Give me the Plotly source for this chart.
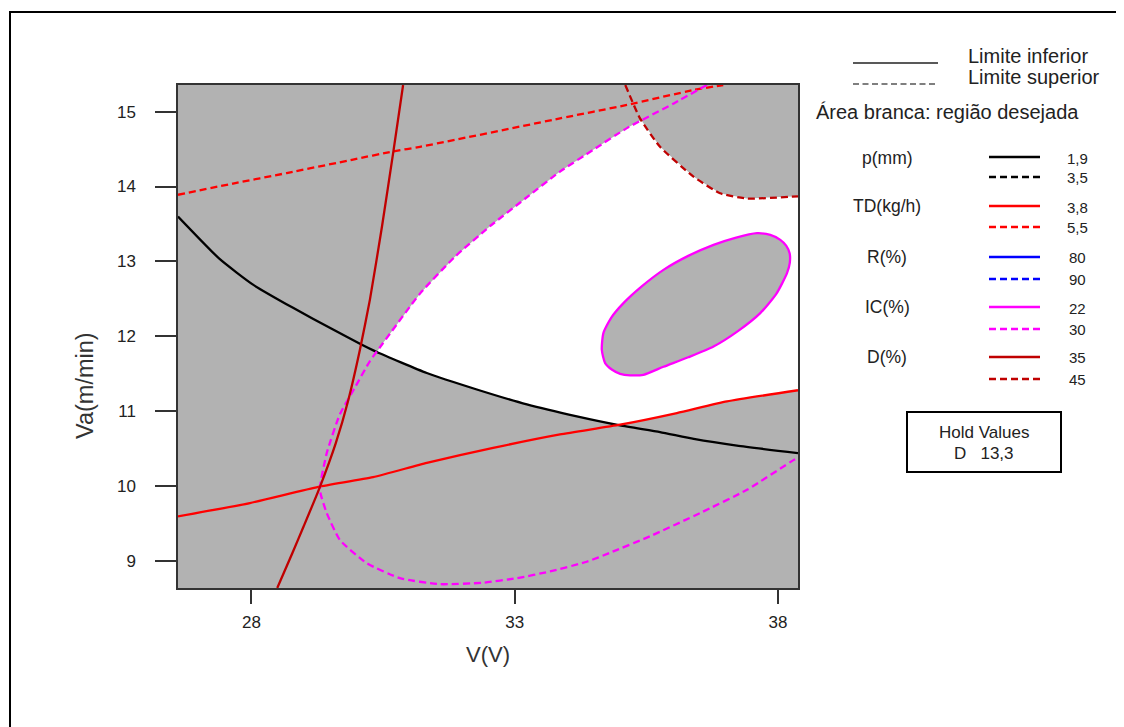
import plotly.graph_objects as go

# ---------------- data ----------------
x_ticks = [28, 33, 38]
y_ticks = [9, 10, 11, 12, 13, 14, 15]
x_range = [26.605, 38.38]
y_range = [8.639, 15.356]

# p(mm) = 1,9  (solid black)
p19_x = [26.605, 27.40, 28.03, 28.79, 29.55, 30.06, 30.38, 31.33, 32.28, 33.23, 34.18, 35.00, 35.76, 36.40, 37.22, 38.38]
p19_y = [13.60, 13.03, 12.69, 12.38, 12.09, 11.90, 11.79, 11.51, 11.29, 11.09, 10.93, 10.81, 10.72, 10.63, 10.54, 10.44]

# TD(kg/h) = 3,8  (solid red)
td38_x = [26.605, 27.97, 29.27, 30.31, 31.33, 32.59, 33.86, 35.00, 36.08, 37.03, 38.38]
td38_y = [9.595, 9.774, 9.99, 10.12, 10.31, 10.51, 10.69, 10.82, 10.975, 11.13, 11.28]

# TD(kg/h) = 5,5  (dashed red)
td55_x = [26.605, 27.65, 28.67, 29.93, 30.69, 31.20, 33.86, 35.13, 36.40, 36.96]
td55_y = [13.89, 14.04, 14.18, 14.36, 14.47, 14.53, 14.91, 15.09, 15.29, 15.356]

# D(%) = 35  (solid dark red)
d35_x = [30.88, 30.70, 30.48, 30.25, 30.06, 29.84, 29.60, 29.29, 28.99, 28.78, 28.49]
d35_y = [15.356, 14.49, 13.47, 12.49, 11.82, 11.15, 10.57, 9.97, 9.46, 9.11, 8.639]

# D(%) = 45  (dashed dark red)
d45_x = [35.10, 35.38, 35.76, 36.40, 36.90, 37.41, 38.38]
d45_y = [15.356, 14.91, 14.53, 14.13, 13.91, 13.84, 13.87]

# IC(%) = 30  (dashed magenta)
ic30_x = [36.65, 36.02, 35.13, 34.49, 33.86, 33.20, 32.53, 31.86, 31.20, 30.50, 30.25, 29.96, 29.68,
          29.43, 29.30, 29.43, 29.68, 30.19, 30.82, 31.58, 32.40, 33.04, 33.67, 34.37, 34.81, 35.57,
          36.52, 37.41, 38.30, 38.38]
ic30_y = [15.356, 15.11, 14.78, 14.49, 14.20, 13.84, 13.47, 13.06, 12.57, 11.91, 11.67, 11.31, 10.96,
          10.44, 9.95, 9.64, 9.28, 8.97, 8.77, 8.69, 8.71, 8.77, 8.86, 8.99, 9.11, 9.33,
          9.64, 9.95, 10.35, 10.38]

# IC(%) = 22  (solid magenta, closed)
ic22_x = [34.654, 34.684, 34.831, 35.065, 35.401, 35.825, 36.295, 36.776, 37.188, 37.601, 37.854, 38.044,
          38.158, 38.221, 38.224, 38.171, 37.968, 37.663, 37.245, 36.776, 36.295, 35.825, 35.445, 35.192,
          35.002, 34.850, 34.717, 34.654]
ic22_y = [11.820, 12.043, 12.247, 12.443, 12.660, 12.887, 13.074, 13.221, 13.315, 13.377, 13.354, 13.288,
          13.208, 13.110, 12.981, 12.843, 12.567, 12.310, 12.073, 11.864, 11.720, 11.593, 11.486, 11.479,
          11.499, 11.553, 11.642, 11.820]

# white (desired) region boundary
white_x = [30.38, 30.50, 31.20, 31.86, 32.53, 33.20, 33.86, 34.49, 35.13, 35.40, 35.76, 36.40, 36.90,
           37.41, 38.38, 38.38, 37.03, 36.08, 35.00, 34.18, 33.23, 32.28, 31.33, 30.38]
white_y = [11.79, 11.91, 12.57, 13.06, 13.47, 13.84, 14.20, 14.49, 14.78, 14.89, 14.53, 14.13, 13.91,
           13.84, 13.87, 11.28, 11.13, 10.975, 10.82, 10.93, 11.09, 11.29, 11.51, 11.79]

# legend
legend_names = ["p(mm)", "TD(kg/h)", "R(%)", "IC(%)", "D(%)"]
legend_low = ["1,9", "3,8", "80", "22", "35"]
legend_high = ["3,5", "5,5", "90", "30", "45"]
legend_colors = ["#000000", "#ff0000", "#0000ff", "#ff00ff", "#c00000"]
hold_text = ["Hold Values", "D\u00a0\u00a0\u00a013,3"]

# ---------------- layout helpers ----------------
OFF = 8                      # page body margin of the browser
W, H = 1124, 727
ML, MT = 178 - OFF, 85 - OFF
PW, PH = 620, 503
MR, MB = W - ML - PW, H - MT - PH


def px(x):
    """reference-image x pixel -> paper coordinate"""
    return (x - OFF - ML) / PW


def py(y):
    """reference-image y pixel -> paper coordinate"""
    return (H - MB - (y - OFF)) / PH


GRAY = "#b2b2b2"
FONT = "Liberation Sans, Arial, sans-serif"
TXT = "#222222"
DASH = "7px,4px"

fig = go.Figure()

fig.add_trace(go.Scatter(x=white_x, y=white_y, mode="lines", fill="toself",
                         fillcolor="#ffffff", line=dict(width=0, color="#ffffff"),
                         hoverinfo="skip"))
fig.add_trace(go.Scatter(x=ic22_x, y=ic22_y, mode="lines", fill="toself", fillcolor=GRAY,
                         line=dict(color="#ff00ff", width=2.3, shape="spline", smoothing=0.6),
                         hoverinfo="skip"))

curves = [
    (p19_x, p19_y, "#000000", "solid"),
    (td38_x, td38_y, "#ff0000", "solid"),
    (td55_x, td55_y, "#ff0000", DASH),
    (ic30_x, ic30_y, "#ff00ff", DASH),
    (d35_x, d35_y, "#c00000", "solid"),
    (d45_x, d45_y, "#c00000", DASH),
]
for cx, cy, col, dash in curves:
    fig.add_trace(go.Scatter(x=cx, y=cy, mode="lines",
                             line=dict(color=col, width=2.3, dash=dash, shape="spline", smoothing=0.5),
                             hoverinfo="skip"))

shapes = []
annotations = []

# outer border
shapes.append(dict(type="rect", xref="paper", yref="paper", x0=px(10), y0=py(12), x1=px(1150),
                   y1=py(760), line=dict(color="#000000", width=2)))

# limit legend
shapes.append(dict(type="line", xref="paper", yref="paper", x0=px(853), x1=px(938), y0=py(63), y1=py(63),
                   line=dict(color="#222222", width=1.6)))
shapes.append(dict(type="line", xref="paper", yref="paper", x0=px(853), x1=px(938), y0=py(84), y1=py(84),
                   line=dict(color="#555555", width=1.5, dash="6px,3.5px")))
annotations.append(dict(text="Limite inferior", x=px(966), y=py(56), xanchor="left", yanchor="middle",
                        font=dict(size=20, color=TXT, family=FONT)))
annotations.append(dict(text="Limite superior", x=px(966), y=py(77), xanchor="left", yanchor="middle",
                        font=dict(size=20, color=TXT, family=FONT)))
annotations.append(dict(text="Área branca: região desejada", x=px(814), y=py(112), xanchor="left",
                        yanchor="middle", font=dict(size=20, color=TXT, family=FONT)))

label_y = [158, 206, 257, 307, 357]
low_y = [157, 206, 257, 307, 357]
high_y = [177, 227, 279, 329, 379]
for i, name in enumerate(legend_names):
    annotations.append(dict(text=name, x=px(887), y=py(label_y[i]), xanchor="center", yanchor="middle",
                            font=dict(size=17.5, color=TXT, family=FONT)))
    shapes.append(dict(type="line", xref="paper", yref="paper", x0=px(989), x1=px(1040),
                       y0=py(low_y[i]), y1=py(low_y[i]), line=dict(color=legend_colors[i], width=2.6)))
    shapes.append(dict(type="line", xref="paper", yref="paper", x0=px(989), x1=px(1040),
                       y0=py(high_y[i]), y1=py(high_y[i]),
                       line=dict(color=legend_colors[i], width=2.6, dash="7px,4px")))
    annotations.append(dict(text=legend_low[i], x=px(1077), y=py(low_y[i] + 1), xanchor="center",
                            yanchor="middle", font=dict(size=15, color=TXT, family=FONT)))
    annotations.append(dict(text=legend_high[i], x=px(1077), y=py(high_y[i]), xanchor="center",
                            yanchor="middle", font=dict(size=15, color=TXT, family=FONT)))

# hold values box
shapes.append(dict(type="rect", xref="paper", yref="paper", x0=px(907), x1=px(1061), y0=py(412), y1=py(472),
                   line=dict(color="#000000", width=2)))
annotations.append(dict(text=hold_text[0], x=px(984), y=py(432), xanchor="center", yanchor="middle",
                        font=dict(size=17, color=TXT, family=FONT)))
annotations.append(dict(text=hold_text[1], x=px(984), y=py(453), xanchor="center", yanchor="middle",
                        font=dict(size=17, color=TXT, family=FONT)))

# axis titles
annotations.append(dict(text="V(V)", x=px(488), y=py(654), xanchor="center", yanchor="middle",
                        font=dict(size=22, color="#333333", family=FONT)))
annotations.append(dict(text="Va(m/min)", x=px(85), y=py(386), xanchor="center", yanchor="middle",
                        textangle=-90, font=dict(size=23.5, color="#333333", family=FONT)))

for a in annotations:
    a.setdefault("xref", "paper")
    a.setdefault("yref", "paper")
    a["showarrow"] = False

fig.update_layout(
    width=W, height=H,
    margin=dict(l=ML, r=MR, t=MT, b=MB, pad=0),
    paper_bgcolor="#ffffff", plot_bgcolor=GRAY,
    showlegend=False,
    shapes=shapes, annotations=annotations,
    font=dict(family=FONT, color=TXT),
    xaxis=dict(range=x_range, tickvals=x_ticks, ticktext=[str(v) for v in x_ticks],
               ticks="outside", ticklen=14, tickwidth=1.5, tickcolor="#333333",
               showline=True, linecolor="#333333", linewidth=1.5, mirror=True,
               showgrid=False, zeroline=False, ticklabelstandoff=4,
               tickfont=dict(size=17, color=TXT, family=FONT)),
    yaxis=dict(range=y_range, tickvals=y_ticks, ticktext=[str(v) for v in y_ticks],
               ticks="outside", ticklen=21, tickwidth=1.5, tickcolor="#333333",
               showline=True, linecolor="#333333", linewidth=1.5, mirror=True,
               showgrid=False, zeroline=False, ticklabelstandoff=16,
               tickfont=dict(size=17, color=TXT, family=FONT)),
)

fig.write_html("out.html")
